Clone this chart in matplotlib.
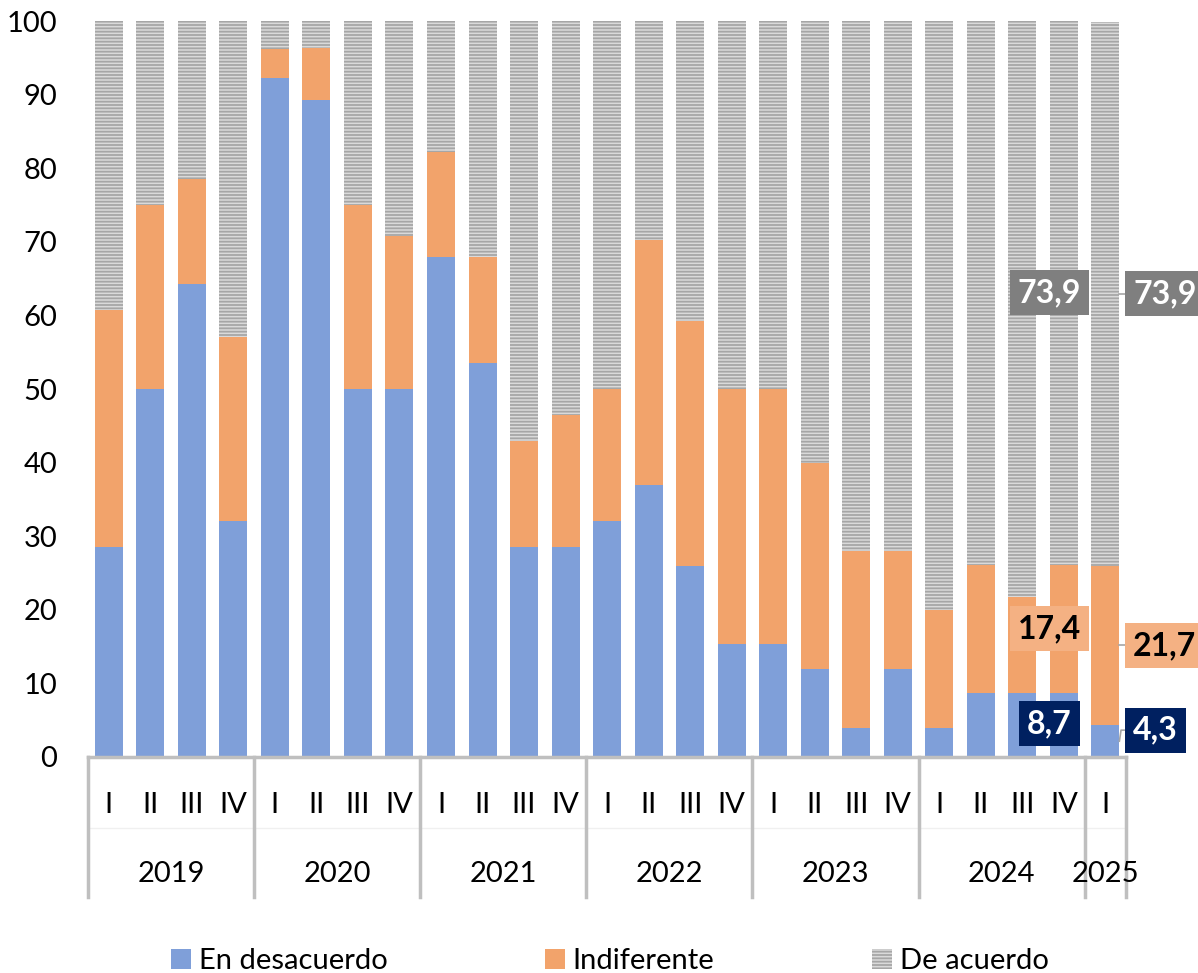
import numpy as np
import matplotlib
matplotlib.use("Agg")
import matplotlib.pyplot as plt
from matplotlib.patches import Patch
from matplotlib.transforms import blended_transform_factory

plt.rcParams["font.family"] = ["Lato", "DejaVu Sans"]
plt.rcParams["hatch.linewidth"] = 1.3

# datos (% de respuestas)
anios = ["2019", "2020", "2021", "2022", "2023", "2024", "2025"]
trimestres = ["I", "II", "III", "IV"] * 6 + ["I"]
en_desacuerdo = [28.6, 50.0, 64.3, 32.1, 92.3, 89.3, 50.0, 50.0, 67.9, 53.6, 28.6, 28.6,
                 32.1, 37.0, 25.9, 15.4, 15.4, 12.0, 4.0, 12.0, 4.0, 8.7, 8.7, 8.7, 4.3]
indiferente = [32.1, 25.0, 14.3, 25.0, 3.9, 7.1, 25.0, 20.8, 14.3, 14.3, 14.3, 17.9,
               17.9, 33.3, 33.3, 34.6, 34.6, 28.0, 24.0, 16.0, 16.0, 17.4, 13.0, 17.4, 21.7]
de_acuerdo = [39.3, 25.0, 21.4, 42.9, 3.8, 3.6, 25.0, 29.2, 17.9, 32.1, 57.1, 53.6,
              50.0, 29.7, 40.8, 50.0, 50.0, 60.0, 72.0, 72.0, 80.0, 73.9, 78.3, 73.9, 73.9]

azul = "#7f9fd9"
naranja = "#f2a36b"
gris = "#dadada"
gris_rayas = "#a6a6a6"

fig = plt.figure(figsize=(11.98, 9.73), dpi=100)
ax = fig.add_axes([0.0735, 0.222, 0.8665, 0.7564])

x = np.arange(len(trimestres))
w = 0.675
ed = np.array(en_desacuerdo)
ind = np.array(indiferente)
da = np.array(de_acuerdo)

ax.bar(x, ed, width=w, color=azul, linewidth=0)
ax.bar(x, ind, width=w, bottom=ed, color=naranja, linewidth=0)
ax.bar(x, da, width=w, bottom=ed + ind, color=gris, edgecolor=gris_rayas,
       hatch="-----", linewidth=0)

ax.set_xlim(-0.5, len(x) - 0.5)
ax.set_ylim(0, 100)
ax.set_yticks(np.arange(0, 101, 10))
ax.tick_params(axis="y", length=0, labelsize=21, pad=22)
ax.set_xticks([])
for s in ax.spines.values():
    s.set_visible(False)

# eje de categorias en dos niveles
tr = blended_transform_factory(ax.transData, ax.transAxes)
ax.plot([-0.5, len(x) - 0.5], [0, 0], transform=tr, color="#bfbfbf", lw=2.5, clip_on=False)
ax.plot([-0.5, len(x) - 0.5], [-0.097, -0.097], transform=tr, color="#f0f0f0", lw=1, clip_on=False)
cortes = [-0.5, 3.5, 7.5, 11.5, 15.5, 19.5, 23.5, 24.5]
for c in cortes:
    ax.plot([c, c], [0, -0.19], transform=tr, color="#bfbfbf", lw=2.5, clip_on=False)
for i, t in enumerate(trimestres):
    ax.text(i, -0.065, t, transform=tr, ha="center", va="center", fontsize=21)
for j, a in enumerate(anios):
    centro = (cortes[j] + cortes[j + 1]) / 2
    ax.text(centro, -0.159, a, transform=tr, ha="center", va="center", fontsize=21)

# etiquetas de datos
i4 = 23
xl = i4 - 0.35
ax.text(xl, ed[i4] / 2 + 0.2, "8,7", ha="center", va="center", fontsize=23, fontweight="bold",
        color="white", bbox=dict(boxstyle="square,pad=0.25", fc="#002060", ec="none"))
ax.text(xl, ed[i4] + ind[i4] / 2, "17,4", ha="center", va="center", fontsize=23, fontweight="bold",
        color="black", bbox=dict(boxstyle="square,pad=0.25", fc="#f4b183", ec="none"))
ax.text(xl, ed[i4] + ind[i4] + da[i4] / 2, "73,9", ha="center", va="center", fontsize=23,
        fontweight="bold", color="white",
        bbox=dict(boxstyle="square,pad=0.25", fc="#7f7f7f", ec="none"))

i5 = 24
xr = i5 + 0.67
borde = i5 + w / 2
y_ed = ed[i5] / 2 + 1.5
y_ind = ed[i5] + ind[i5] / 2
y_da = ed[i5] + ind[i5] + da[i5] / 2
ax.text(xr, y_ed, "4,3", ha="left", va="center", fontsize=23, fontweight="bold", color="white",
        bbox=dict(boxstyle="square,pad=0.25", fc="#002060", ec="none"), clip_on=False)
ax.text(xr, y_ind, "21,7", ha="left", va="center", fontsize=23, fontweight="bold", color="black",
        bbox=dict(boxstyle="square,pad=0.25", fc="#f4b183", ec="none"), clip_on=False)
ax.text(xr, y_da, "73,9", ha="left", va="center", fontsize=23, fontweight="bold", color="white",
        bbox=dict(boxstyle="square,pad=0.25", fc="#7f7f7f", ec="none"), clip_on=False)
ax.plot([borde, borde + 0.04, xr - 0.1], [ed[i5] / 2, y_ed, y_ed], color="#a6a6a6", lw=1.2, clip_on=False)
ax.plot([borde, xr - 0.1], [y_ind, y_ind], color="#a6a6a6", lw=1.2, clip_on=False)
ax.plot([borde, xr - 0.1], [y_da, y_da], color="#a6a6a6", lw=1.2, clip_on=False)

handles = [Patch(facecolor=azul, linewidth=0),
           Patch(facecolor=naranja, linewidth=0),
           Patch(facecolor=gris, edgecolor=gris_rayas, hatch="-----", linewidth=0)]
fig.legend(handles, ["En desacuerdo", "Indiferente", "De acuerdo"], loc="center",
           bbox_to_anchor=(0.509, 0.012), ncol=3, frameon=False, fontsize=21,
           handlelength=0.7, handleheight=0.7, handletextpad=0.25, columnspacing=5.4)

fig.savefig("out.png", dpi=100)
